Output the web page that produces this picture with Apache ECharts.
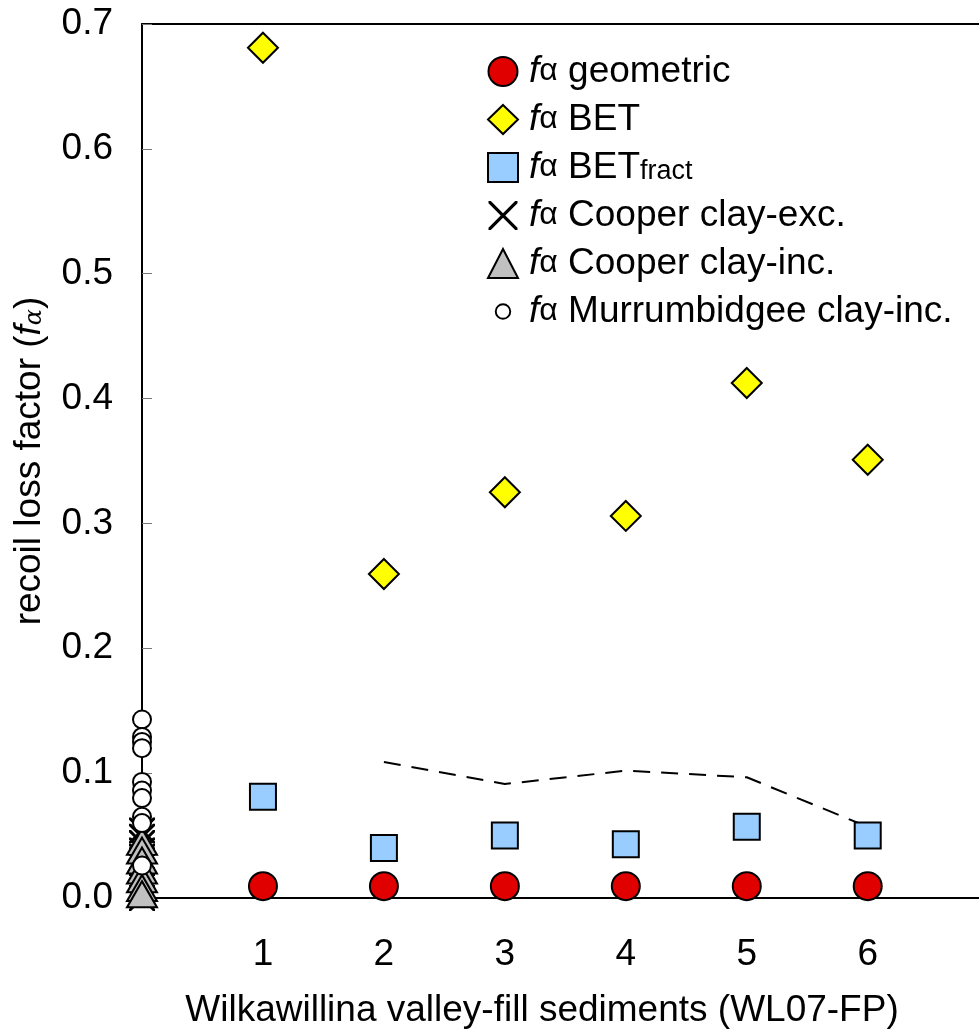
<!DOCTYPE html>
<html>
<head>
<meta charset="utf-8">
<script src="https://cdn.jsdelivr.net/npm/echarts@6/dist/echarts.min.js"></script>
<style>html,body{margin:0;padding:0;background:#fff}#c{width:979px;height:1036px}</style>
</head>
<body>
<div id="c"></div>
<script>
const sampleX = [1, 2, 3, 4, 5, 6];
const geometric = [0.0095, 0.0095, 0.0095, 0.0095, 0.0095, 0.0095];
const bet = [0.681, 0.2595, 0.325, 0.306, 0.4125, 0.351];
const betFract = [0.081, 0.040, 0.050, 0.043, 0.057, 0.050];
const dashX = [2, 3, 4, 5, 6];
const dashY = [0.109, 0.0913, 0.102, 0.0967, 0.057];
const cooperExc = [0.054, 0.049, 0.044, 0.038, 0.033, 0.028, 0.0];
const cooperInc = [0.045, 0.038, 0.030, 0.022, 0.015, 0.008, 0.003];
const murrumbidgee = [0.143, 0.129, 0.125, 0.120, 0.093, 0.086, 0.080, 0.065, 0.060, 0.026];
const xTickLabels = ['1', '2', '3', '4', '5', '6'];
const seriesNames = ['geometric', 'BET', 'BETfract', 'Cooper clay-exc.', 'Cooper clay-inc.', 'Murrumbidgee clay-inc.'];

const FONT = '"Liberation Sans", Arial, sans-serif';
const FS = 37;
const pairs = (xs, ys) => xs.map((x, i) => [x, ys[i]]);
const atZero = ys => ys.map(y => [0, y]);
const XPATH = 'path://M0,0 L1.6,0 L10,8.4 L18.4,0 L20,0 L20,1.6 L11.6,10 L20,18.4 L20,20 L18.4,20 L10,11.6 L1.6,20 L0,20 L0,18.4 L8.4,10 L0,1.6 Z';
const smallCircleIcon = 'image://data:image/svg+xml;utf8,' + encodeURIComponent('<svg xmlns="http://www.w3.org/2000/svg" width="30" height="30"><circle cx="15" cy="15" r="7.5" fill="white" stroke="black" stroke-width="2"/></svg>');

const chart = echarts.init(document.getElementById('c'), null, {renderer: 'canvas'});
const border = {borderColor: '#000', borderWidth: 2};

chart.setOption({
  animation: false,
  backgroundColor: '#fff',
  textStyle: {fontFamily: FONT},
  grid: {left: 142, top: 24, bottom: 138, right: 0, show: false},
  legend: {
    orient: 'vertical', left: 482, top: 48,
    itemWidth: 30, itemHeight: 29, itemGap: 11,
    data: [
      {name: seriesNames[0]},
      {name: seriesNames[1]},
      {name: seriesNames[2]},
      {name: seriesNames[3]},
      {name: seriesNames[4]},
      {name: seriesNames[5], icon: smallCircleIcon}
    ],
    formatter: function (n) {
      if (n === 'BETfract') return '{f|f}{a|α} {t|BET}{s|fract}';
      return '{f|f}{a|α} {t|' + n + '}';
    },
    textStyle: {
      color: '#000', fontFamily: FONT, fontSize: FS, lineHeight: 30, padding: [0, 0, 0, 6],
      rich: {
        f: {fontStyle: 'italic', fontSize: FS, color: '#000', fontFamily: FONT},
        a: {fontSize: 32, color: '#000', fontFamily: FONT},
        t: {fontSize: FS, color: '#000', fontFamily: FONT},
        s: {fontSize: 27, color: '#000', fontFamily: FONT, padding: [9, 0, 0, 0]}
      }
    }
  },
  xAxis: [{
    type: 'value', min: 0, max: 6.92, interval: 1,
    name: 'Wilkawillina valley-fill sediments (WL07-FP)',
    nameLocation: 'middle', nameGap: 94,
    nameTextStyle: {fontSize: FS, color: '#000', fontFamily: FONT, padding: [0, 37, 0, 0]},
    axisLine: {show: true, onZero: false, lineStyle: {color: '#000', width: 2}},
    axisTick: {show: false},
    splitLine: {show: false},
    axisLabel: {
      fontSize: FS, color: '#000', margin: 38, fontFamily: FONT, showMaxLabel: false,
      formatter: v => (v >= 1 && v <= 6) ? xTickLabels[v - 1] : ''
    }
  }, {
    type: 'value', min: 0, max: 6.92, position: 'top',
    axisLine: {show: true, onZero: false, lineStyle: {color: '#000', width: 2}},
    axisTick: {show: false}, axisLabel: {show: false}, splitLine: {show: false}
  }],
  yAxis: {
    type: 'value', min: 0, max: 0.7, interval: 0.1,
    name: 'recoil loss factor ({fi|f}{ai|α})',
    nameLocation: 'middle', nameGap: 94, nameRotate: 90,
    nameTextStyle: {
      fontSize: FS, color: '#000', fontFamily: FONT,
      rich: {
        fi: {fontStyle: 'italic', fontSize: FS, color: '#000', fontFamily: FONT},
        ai: {fontStyle: 'italic', fontSize: 24, color: '#000', fontFamily: 'DejaVu Serif, serif', padding: [10, 0, 0, 0]}
      }
    },
    axisLine: {show: true, lineStyle: {color: '#000', width: 2}},
    axisTick: {show: true, inside: true, length: 10, lineStyle: {color: '#777', width: 1}},
    splitLine: {show: false},
    axisLabel: {fontSize: FS, color: '#000', margin: 29, fontFamily: FONT, formatter: v => v.toFixed(1)}
  },
  series: [
    {
      name: 'dash', type: 'line', data: pairs(dashX, dashY), symbol: 'none', silent: true,
      lineStyle: {color: '#000', width: 2, type: [17, 11]}, z: 1
    },
    {
      name: seriesNames[0], type: 'scatter', data: pairs(sampleX, geometric), symbol: 'circle', symbolSize: 28,
      itemStyle: Object.assign({color: '#e00000', opacity: 1}, border), clip: false, z: 3
    },
    {
      name: seriesNames[1], type: 'scatter', data: pairs(sampleX, bet), symbol: 'diamond', symbolSize: 30,
      itemStyle: Object.assign({color: '#ffff00', opacity: 1}, border), clip: false, z: 3
    },
    {
      name: seriesNames[2], type: 'scatter', data: pairs(sampleX, betFract), symbol: 'rect', symbolSize: 26,
      itemStyle: Object.assign({color: '#99ccff', opacity: 1}, border), clip: false, z: 3
    },
    {
      name: seriesNames[3], type: 'scatter', data: atZero(cooperExc), symbol: XPATH, symbolSize: 26,
      itemStyle: {color: '#000', borderWidth: 0, opacity: 1}, clip: false, z: 3
    },
    {
      name: seriesNames[4], type: 'scatter', data: atZero(cooperInc), symbol: 'triangle', symbolSize: [30, 26],
      itemStyle: Object.assign({color: '#c0c0c0', opacity: 1}, border), clip: false, z: 3
    },
    {
      name: seriesNames[5], type: 'scatter', data: atZero(murrumbidgee), symbol: 'circle', symbolSize: 18,
      itemStyle: Object.assign({color: '#fff', opacity: 1}, border), clip: false, z: 3
    }
  ]
});
</script>
</body>
</html>
